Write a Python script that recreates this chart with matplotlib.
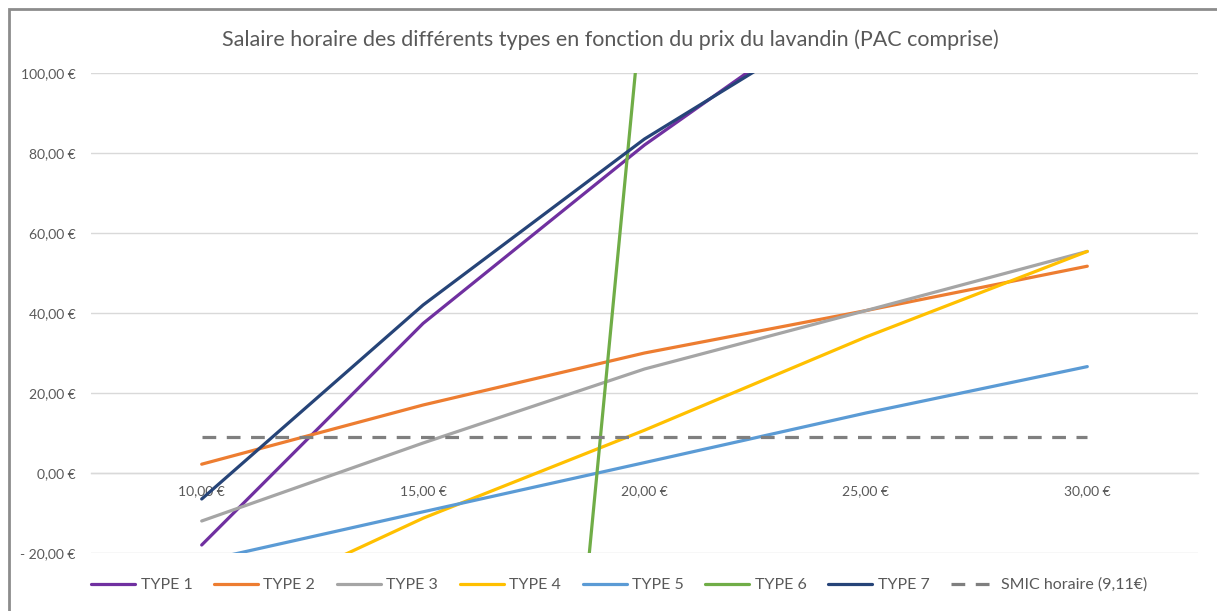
import matplotlib
matplotlib.use("Agg")
import matplotlib.pyplot as plt
from matplotlib.patches import Rectangle

# ---- data ----
prix_labels = ["10,00 €", "15,00 €", "20,00 €", "25,00 €", "30,00 €"]
type1 = [-18.0, 37.4, 82.0, 121.0, 160.0]
type2 = [2.2, 17.0, 30.0, 40.6, 51.7]
type3 = [-12.0, 7.5, 26.0, 40.6, 55.4]
type4 = [-37.0, -11.3, 10.7, 34.0, 55.4]
type5 = [-22.1, -9.7, 2.6, 15.0, 26.6]
type6 = [-1030.0, -454.0, 124.0, 700.0, 1280.0]
type7 = [-6.5, 42.0, 83.5, 117.5, 152.0]
smic = [9.11, 9.11, 9.11, 9.11, 9.11]
series_names = ["TYPE 1", "TYPE 2", "TYPE 3", "TYPE 4", "TYPE 5", "TYPE 6", "TYPE 7"]
y_ticks = [-20, 0, 20, 40, 60, 80, 100]
y_tick_labels = ["- 20,00 €", "0,00 €", "20,00 €", "40,00 €", "60,00 €", "80,00 €", "100,00 €"]
title = "Salaire horaire des différents types en fonction du prix du lavandin (PAC comprise)"

colors = ["#7030A0", "#ED7D31", "#A5A5A5", "#FFC000", "#5B9BD5", "#70AD47", "#264478"]

plt.rcParams['font.family'] = ['Lato', 'DejaVu Sans']
W, H = 1217, 611
fig = plt.figure(figsize=(W / 100, H / 100), dpi=100)
fig.patch.set_facecolor("white")

# outer border (left and top visible)
fig.patches.append(Rectangle((8.5 / W, -0.1), 1.2, (H - 8.5) / H + 0.1, transform=fig.transFigure,
                             fill=False, edgecolor="#8c8c8c", linewidth=2.0))

ax = fig.add_axes([91 / W, 1 - 553 / H, (1198 - 91) / W, (553 - 73) / H])
x = list(range(len(prix_labels)))
all_series = [type1, type2, type3, type4, type5, type6, type7]
for name, vals, c in zip(series_names, all_series, colors):
    ax.plot(x, vals, color=c, lw=2.3, label=name, solid_capstyle="round", zorder=3)
ax.plot(x, smic, color="#7f7f7f", lw=2.3, linestyle=(0, (4.3, 3.3)), label="SMIC horaire (9,11€)", zorder=3)

ax.set_xlim(-0.5, len(prix_labels) - 0.5)
ax.set_ylim(-20, 100)
ax.set_yticks(y_ticks)
ax.set_yticklabels(y_tick_labels)
ax.set_xticks(x)
ax.set_xticklabels(prix_labels)
ax.grid(axis="y", color="#d9d9d9", lw=1.0, zorder=0)
ax.set_axisbelow(True)
for s in ["top", "right", "left"]:
    ax.spines[s].set_visible(False)
ax.spines["bottom"].set_position(("data", 0))
ax.spines["bottom"].set_color("#d9d9d9")
ax.spines["bottom"].set_linewidth(1.0)
ax.tick_params(axis="y", length=0, pad=11, labelsize=10, labelcolor="#595959")
ax.tick_params(axis="x", length=0, pad=9, labelsize=10, labelcolor="#595959")

fig.text(610 / W, 1 - 40 / H, title, ha="center", va="center", fontsize=15.5, color="#595959")

leg = fig.legend(loc="center", bbox_to_anchor=(619 / W, 1 - 585 / H), ncol=8, frameon=False,
                 fontsize=11.5, handlelength=2.75, handletextpad=0.35, columnspacing=1.35,
                 labelcolor="#595959")
plt.savefig("out.png", dpi=100, facecolor="white")
